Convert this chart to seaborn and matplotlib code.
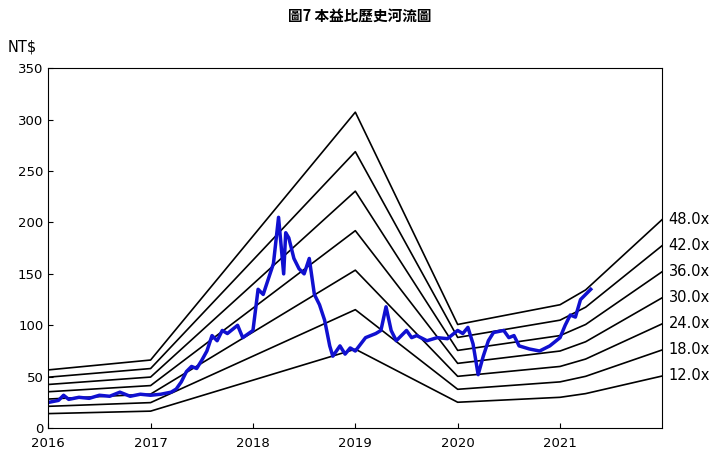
import matplotlib
matplotlib.use("Agg")
import matplotlib.pyplot as plt
import seaborn as sns
import pandas as pd

plt.rcParams["font.family"] = ["DejaVu Sans"]
CJK = ["Noto Sans CJK TC", "Noto Sans CJK JP", "Noto Sans CJK SC", "DejaVu Sans"]

# EPS base (trailing) at key dates
eps_t = [2016.0, 2017.0, 2019.0, 2020.0, 2021.0, 2021.25, 2022.0]
eps_v = [1.18, 1.38, 6.4, 2.1, 2.5, 2.8, 4.23]
multiples = [12, 18, 24, 30, 36, 42, 48]
band_labels = ["12.0x", "18.0x", "24.0x", "30.0x", "36.0x", "42.0x", "48.0x"]

price_t = [2016.0, 2016.1, 2016.15, 2016.2, 2016.3, 2016.4, 2016.5, 2016.6, 2016.7, 2016.75,
           2016.8, 2016.9, 2017.0, 2017.1, 2017.2, 2017.25, 2017.3, 2017.35, 2017.4, 2017.45,
           2017.5, 2017.55, 2017.6, 2017.65, 2017.7, 2017.75, 2017.85, 2017.9, 2018.0, 2018.05,
           2018.1, 2018.15, 2018.2, 2018.25, 2018.3, 2018.32, 2018.35, 2018.4, 2018.45, 2018.5,
           2018.55, 2018.6, 2018.65, 2018.7, 2018.75, 2018.78, 2018.85, 2018.9, 2018.95, 2019.0,
           2019.1, 2019.2, 2019.25, 2019.3, 2019.35, 2019.4, 2019.5, 2019.55, 2019.6, 2019.7,
           2019.8, 2019.9, 2020.0, 2020.05, 2020.1, 2020.15, 2020.2, 2020.25, 2020.3, 2020.35,
           2020.45, 2020.5, 2020.55, 2020.6, 2020.7, 2020.8, 2020.9, 2021.0, 2021.05, 2021.1,
           2021.15, 2021.2, 2021.25, 2021.3]
price_v = [25, 27, 32, 28, 30, 29, 32, 31, 35, 33,
           31, 33, 32, 33, 35, 38, 45, 55, 60, 58,
           66, 75, 90, 85, 95, 92, 100, 88, 95, 135,
           130, 145, 160, 205, 150, 190, 185, 165, 155, 150,
           165, 130, 120, 105, 80, 70, 80, 72, 78, 75,
           88, 92, 95, 118, 95, 85, 95, 88, 90, 85,
           88, 87, 95, 92, 98, 82, 52, 70, 85, 93,
           95, 88, 90, 80, 77, 75, 80, 88, 100, 110,
           108, 125, 130, 135]

fig = plt.figure(figsize=(7.2, 4.7), dpi=100)
ax = fig.add_axes([0.067, 0.089, 0.853, 0.766])

for m, lab in zip(multiples, band_labels):
    band = pd.DataFrame({"t": eps_t, "v": [e * m for e in eps_v]})
    sns.lineplot(data=band, x="t", y="v", ax=ax, color="black", lw=1.2)
    ax.text(2022.06, band["v"].iloc[-1], lab, fontsize=10.5, va="center", clip_on=False)

price = pd.DataFrame({"t": price_t, "v": price_v})
sns.lineplot(data=price, x="t", y="v", ax=ax, color="#1010d0", lw=2.5)

ax.set_xlim(2016, 2022)
ax.set_ylim(0, 350)
ax.set_xticks([2016, 2017, 2018, 2019, 2020, 2021])
ax.set_xticklabels(["2016", "2017", "2018", "2019", "2020", "2021"])
ax.set_yticks(range(0, 351, 50))
ax.tick_params(direction="in", labelsize=9.5)
ax.tick_params(axis="x", pad=6)
ax.set_xlabel("")
ax.set_ylabel("")
fig.text(0.01, 0.89, "NT$", fontsize=10.5)
fig.text(0.5, 0.955, "圖7 本益比歷史河流圖", ha="center", fontsize=10.5,
         fontweight="bold", family=CJK)

fig.savefig("out.png", dpi=100)
